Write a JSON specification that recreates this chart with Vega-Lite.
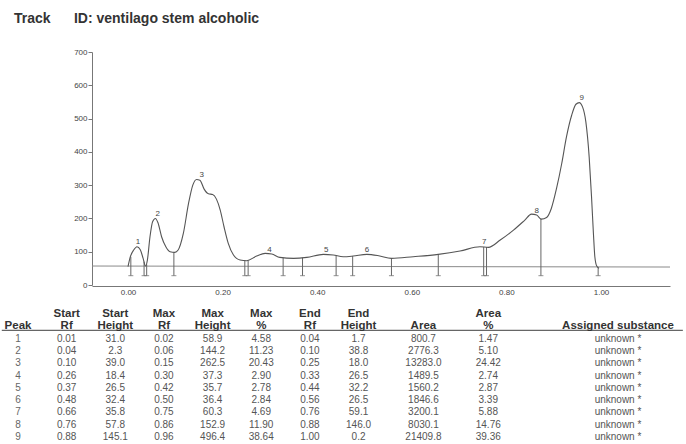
{
  "$schema": "https://vega.github.io/schema/vega-lite/v6.json",
  "width": 686,
  "height": 444,
  "autosize": {"type": "none"},
  "padding": 0,
  "background": "white",
  "config": {"view": {"stroke": null}, "font": "Liberation Sans"},
  "title": {"text": "Track\u00a0\u00a0\u00a0\u00a0\u00a0\u00a0ID: ventilago stem alcoholic", "anchor": "start", "frame": "group", "offset": -26, "dx": 14, "fontSize": 14, "fontWeight": "bold", "color": "#333", "font": "Liberation Sans"},
  "datasets": {
    "curve": [
      {"rf": 0.0, "h": 55}, {"rf": 0.005, "h": 85}, {"rf": 0.012, "h": 105}, {"rf": 0.019, "h": 115}, {"rf": 0.026, "h": 106},
      {"rf": 0.032, "h": 80}, {"rf": 0.037, "h": 57}, {"rf": 0.041, "h": 75}, {"rf": 0.0465, "h": 145}, {"rf": 0.052, "h": 190},
      {"rf": 0.058, "h": 200}, {"rf": 0.0634, "h": 187}, {"rf": 0.071, "h": 145}, {"rf": 0.08, "h": 115}, {"rf": 0.089, "h": 100},
      {"rf": 0.099, "h": 98}, {"rf": 0.106, "h": 105}, {"rf": 0.117, "h": 155}, {"rf": 0.128, "h": 245}, {"rf": 0.137, "h": 300},
      {"rf": 0.145, "h": 317}, {"rf": 0.152, "h": 315}, {"rf": 0.161, "h": 288}, {"rf": 0.17, "h": 274}, {"rf": 0.179, "h": 272},
      {"rf": 0.187, "h": 258}, {"rf": 0.195, "h": 225}, {"rf": 0.203, "h": 175}, {"rf": 0.212, "h": 125}, {"rf": 0.223, "h": 90},
      {"rf": 0.237, "h": 75}, {"rf": 0.251, "h": 73}, {"rf": 0.272, "h": 87}, {"rf": 0.29, "h": 95}, {"rf": 0.304, "h": 93},
      {"rf": 0.321, "h": 83}, {"rf": 0.35, "h": 80}, {"rf": 0.378, "h": 83}, {"rf": 0.413, "h": 92}, {"rf": 0.434, "h": 90},
      {"rf": 0.455, "h": 85}, {"rf": 0.476, "h": 87}, {"rf": 0.505, "h": 92}, {"rf": 0.53, "h": 88}, {"rf": 0.557, "h": 80},
      {"rf": 0.603, "h": 85}, {"rf": 0.656, "h": 92}, {"rf": 0.702, "h": 102}, {"rf": 0.744, "h": 115}, {"rf": 0.762, "h": 113},
      {"rf": 0.787, "h": 135}, {"rf": 0.815, "h": 165}, {"rf": 0.839, "h": 195}, {"rf": 0.853, "h": 213}, {"rf": 0.864, "h": 210},
      {"rf": 0.874, "h": 198}, {"rf": 0.885, "h": 203}, {"rf": 0.895, "h": 230}, {"rf": 0.906, "h": 290}, {"rf": 0.917, "h": 365},
      {"rf": 0.927, "h": 445}, {"rf": 0.938, "h": 510}, {"rf": 0.947, "h": 543}, {"rf": 0.954, "h": 548}, {"rf": 0.961, "h": 535},
      {"rf": 0.968, "h": 490}, {"rf": 0.975, "h": 385}, {"rf": 0.98, "h": 265}, {"rf": 0.984, "h": 155}, {"rf": 0.987, "h": 85},
      {"rf": 0.991, "h": 57}, {"rf": 0.996, "h": 50}
    ],
    "markers": [
      {"rf": 0.006, "h": 85}, {"rf": 0.034, "h": 70}, {"rf": 0.0395, "h": 62}, {"rf": 0.097, "h": 98},
      {"rf": 0.247, "h": 74}, {"rf": 0.254, "h": 74}, {"rf": 0.328, "h": 82}, {"rf": 0.369, "h": 82},
      {"rf": 0.44, "h": 89}, {"rf": 0.475, "h": 87}, {"rf": 0.557, "h": 80}, {"rf": 0.656, "h": 92},
      {"rf": 0.752, "h": 114}, {"rf": 0.758, "h": 114}, {"rf": 0.873, "h": 199}, {"rf": 0.994, "h": 52}
    ],
    "labels": [
      {"rf": 0.021, "h": 128, "peak": 1}, {"rf": 0.063, "h": 213, "peak": 2}, {"rf": 0.156, "h": 330, "peak": 3},
      {"rf": 0.299, "h": 104, "peak": 4}, {"rf": 0.419, "h": 104, "peak": 5}, {"rf": 0.505, "h": 104, "peak": 6},
      {"rf": 0.753, "h": 128, "peak": 7}, {"rf": 0.864, "h": 222, "peak": 8}, {"rf": 0.959, "h": 562, "peak": 9}
    ],
    "edges": [{"rf": 0}, {"rf": 1}],
    "baseline": [{"rf": -0.0761, "rf2": 1.1459, "h": 57, "h2": 54}],
    "peaks": [
      {"Peak": 1, "Start Rf": 0.01, "Start Height": 31.0, "Max Rf": 0.02, "Max Height": 58.9, "Max %": 4.58, "End Rf": 0.04, "End Height": 1.7, "Area": 800.7, "Area %": 1.47, "Assigned substance": "unknown *"},
      {"Peak": 2, "Start Rf": 0.04, "Start Height": 2.3, "Max Rf": 0.06, "Max Height": 144.2, "Max %": 11.23, "End Rf": 0.10, "End Height": 38.8, "Area": 2776.3, "Area %": 5.10, "Assigned substance": "unknown *"},
      {"Peak": 3, "Start Rf": 0.10, "Start Height": 39.0, "Max Rf": 0.15, "Max Height": 262.5, "Max %": 20.43, "End Rf": 0.25, "End Height": 18.0, "Area": 13283.0, "Area %": 24.42, "Assigned substance": "unknown *"},
      {"Peak": 4, "Start Rf": 0.26, "Start Height": 18.4, "Max Rf": 0.30, "Max Height": 37.3, "Max %": 2.90, "End Rf": 0.33, "End Height": 26.5, "Area": 1489.5, "Area %": 2.74, "Assigned substance": "unknown *"},
      {"Peak": 5, "Start Rf": 0.37, "Start Height": 26.5, "Max Rf": 0.42, "Max Height": 35.7, "Max %": 2.78, "End Rf": 0.44, "End Height": 32.2, "Area": 1560.2, "Area %": 2.87, "Assigned substance": "unknown *"},
      {"Peak": 6, "Start Rf": 0.48, "Start Height": 32.4, "Max Rf": 0.50, "Max Height": 36.4, "Max %": 2.84, "End Rf": 0.56, "End Height": 26.5, "Area": 1846.6, "Area %": 3.39, "Assigned substance": "unknown *"},
      {"Peak": 7, "Start Rf": 0.66, "Start Height": 35.8, "Max Rf": 0.75, "Max Height": 60.3, "Max %": 4.69, "End Rf": 0.76, "End Height": 59.1, "Area": 3200.1, "Area %": 5.88, "Assigned substance": "unknown *"},
      {"Peak": 8, "Start Rf": 0.76, "Start Height": 57.8, "Max Rf": 0.86, "Max Height": 152.9, "Max %": 11.90, "End Rf": 0.88, "End Height": 146.0, "Area": 8030.1, "Area %": 14.76, "Assigned substance": "unknown *"},
      {"Peak": 9, "Start Rf": 0.88, "Start Height": 145.1, "Max Rf": 0.96, "Max Height": 496.4, "Max %": 38.64, "End Rf": 1.00, "End Height": 0.2, "Area": 21409.8, "Area %": 39.36, "Assigned substance": "unknown *"}
    ],
    "headers": [
      {"col": "Peak", "line": "h2", "text": "Peak"},
      {"col": "Start Rf", "line": "h1", "text": "Start"}, {"col": "Start Rf", "line": "h2", "text": "Rf"},
      {"col": "Start Height", "line": "h1", "text": "Start"}, {"col": "Start Height", "line": "h2", "text": "Height"},
      {"col": "Max Rf", "line": "h1", "text": "Max"}, {"col": "Max Rf", "line": "h2", "text": "Rf"},
      {"col": "Max Height", "line": "h1", "text": "Max"}, {"col": "Max Height", "line": "h2", "text": "Height"},
      {"col": "Max %", "line": "h1", "text": "Max"}, {"col": "Max %", "line": "h2", "text": "%"},
      {"col": "End Rf", "line": "h1", "text": "End"}, {"col": "End Rf", "line": "h2", "text": "Rf"},
      {"col": "End Height", "line": "h1", "text": "End"}, {"col": "End Height", "line": "h2", "text": "Height"},
      {"col": "Area", "line": "h2", "text": "Area"},
      {"col": "Area %", "line": "h1", "text": "Area"}, {"col": "Area %", "line": "h2", "text": "%"},
      {"col": "Assigned substance", "line": "h2", "text": "Assigned substance"}
    ],
    "separator": [{"line": "sep", "pos": "left edge"}, {"line": "sep", "pos": "right edge"}]
  },
  "layer": [
    {
      "encoding": {
        "x": {"field": "rf", "type": "quantitative",
              "scale": {"domain": [-0.0761, 1.1459], "range": [92, 670], "nice": false, "zero": false},
              "axis": {"values": [0, 0.2, 0.4, 0.6, 0.8, 1], "format": ".2f", "ticks": false, "labelPadding": 2, "labelFontSize": 8, "labelColor": "#444", "labelFont": "Liberation Sans", "domainColor": "#777", "grid": false, "title": null, "offset": -158, "labelFlush": false}},
        "y": {"field": "h", "type": "quantitative",
              "scale": {"domain": [0, 700], "range": [285, 52], "nice": false, "zero": false},
              "axis": {"values": [0, 100, 200, 300, 400, 500, 600, 700], "tickSize": 4, "labelPadding": 1, "labelFontSize": 8, "labelColor": "#444", "labelFont": "Liberation Sans", "domainColor": "#777", "tickColor": "#777", "grid": false, "title": null, "offset": -92}}
      },
      "layer": [
        {"data": {"name": "baseline"}, "mark": {"type": "rule", "color": "#8a8a8a", "strokeWidth": 1},
         "encoding": {"x2": {"field": "rf2"}, "y2": {"field": "h2"}}},
        {"data": {"name": "edges"}, "mark": {"type": "rule", "color": "#666", "strokeWidth": 1},
         "encoding": {"y": {"datum": 0}, "y2": {"datum": 700}}},
        {"data": {"name": "markers"}, "mark": {"type": "rule", "color": "#666", "strokeWidth": 1},
         "encoding": {"y2": {"datum": 28}}},
        {"data": {"name": "markers"}, "mark": {"type": "tick", "orient": "horizontal", "color": "#666", "size": 5, "thickness": 1},
         "encoding": {"y": {"datum": 28}}},
        {"data": {"name": "curve"}, "mark": {"type": "line", "interpolate": "monotone", "color": "#555", "strokeWidth": 1.1}},
        {"data": {"name": "labels"}, "mark": {"type": "text", "fontSize": 8, "color": "#444", "baseline": "middle"},
         "encoding": {"text": {"field": "peak", "type": "nominal"}}}
      ]
    },
    {
      "encoding": {
        "x": {"type": "nominal", "scale": {"type": "point", "domain": ["left edge","Peak","s1","s2","Start Rf","s3","s4","Start Height","s5","s6","Max Rf","s7","s8","Max Height","s9","s10","Max %","s11","s12","End Rf","s13","s14","End Height","s15","s16","s17","Area","s18","s19","s20","Area %","s21","s22","s23","s24","s25","s26","s27","Assigned substance","s28","s29","s30","right edge"], "range": [1.78, 682.86], "padding": 0}, "axis": null},
        "y": {"type": "ordinal", "scale": {"type": "point", "domain": ["h1", "y1", "y2", "h2", "sep", "y3", 1, "y4", "y5", 2, "y6", "y7", 3, "y8", "y9", 4, "y10", "y11", 5, "y12", "y13", 6, "y14", "y15", 7, "y16", "y17", 8, "y18", "y19", 9], "range": [314, 437], "padding": 0}, "axis": null}
      },
      "layer": [
        {"data": {"name": "separator"}, "mark": {"type": "line", "color": "#666", "strokeWidth": 1.2},
         "encoding": {"x": {"field": "pos"}, "y": {"field": "line"}}},
        {"data": {"name": "headers"}, "mark": {"type": "text", "fontWeight": "bold", "fontSize": 11.5, "color": "#333", "baseline": "middle"},
         "encoding": {
           "x": {"field": "col"},
           "y": {"field": "line"},
           "text": {"field": "text", "type": "nominal"}}},
        {"data": {"name": "peaks"}, "transform": [{"fold": ["Start Rf", "Max Rf", "End Rf", "Max %", "Area %"], "as": ["col", "val"]}],
         "mark": {"type": "text", "fontSize": 10, "color": "#555", "baseline": "middle"},
         "encoding": {
           "x": {"field": "col"},
           "y": {"field": "Peak"},
           "text": {"field": "val", "type": "quantitative", "format": ".2f"}}},
        {"data": {"name": "peaks"}, "transform": [{"fold": ["Start Height", "Max Height", "End Height", "Area"], "as": ["col", "val"]}],
         "mark": {"type": "text", "fontSize": 10, "color": "#555", "baseline": "middle"},
         "encoding": {
           "x": {"field": "col"},
           "y": {"field": "Peak"},
           "text": {"field": "val", "type": "quantitative", "format": ".1f"}}},
        {"data": {"name": "peaks"},
         "mark": {"type": "text", "fontSize": 10, "color": "#666", "baseline": "middle"},
         "encoding": {
           "x": {"datum": "Peak"},
           "y": {"field": "Peak"},
           "text": {"field": "Peak", "type": "nominal"}}},
        {"data": {"name": "peaks"},
         "mark": {"type": "text", "fontSize": 10, "color": "#555", "baseline": "middle"},
         "encoding": {
           "x": {"datum": "Assigned substance"},
           "y": {"field": "Peak"},
           "text": {"field": "Assigned substance", "type": "nominal"}}}
      ]
    }
  ],
  "resolve": {"scale": {"x": "independent", "y": "independent"}}
}
